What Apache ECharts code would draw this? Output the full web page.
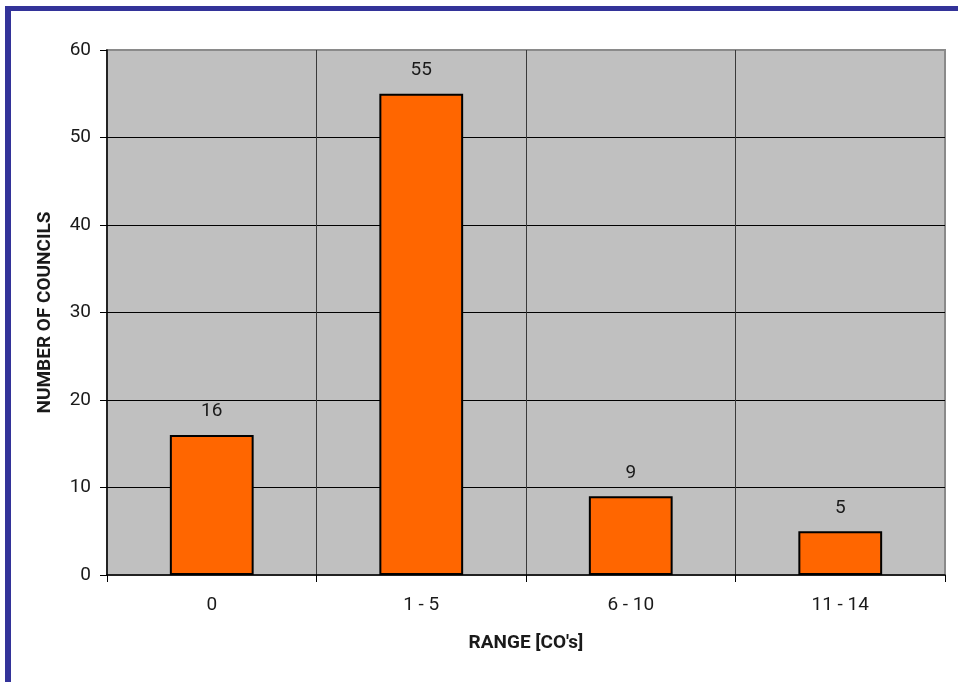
<!DOCTYPE html>
<html>
<head>
<meta charset="utf-8">
<title>Number of councils by range</title>
<script src="https://cdn.jsdelivr.net/npm/echarts@6/dist/echarts.min.js"></script>
<style>
  html, body { margin: 0; padding: 0; background: #ffffff; overflow: hidden; }
  #frame {
    position: absolute; left: 5px; top: 6px; width: 1000px; height: 800px;
    border-left: 6px solid #333399; border-top: 5px solid #333399;
    box-sizing: border-box;
  }
  #chart { position: absolute; left: 0; top: 0; width: 958px; height: 682px; }
</style>
</head>
<body>
<div id="frame"></div>
<div id="chart"></div>
<script>
// Councils grouped by how many COs they have
const categories = ['0', '1 - 5', '6 - 10', '11 - 14'];
const councils = [16, 55, 9, 5];
const yTicks = { min: 0, max: 60, interval: 10 };

const FONT = 'Roboto, "Liberation Sans", sans-serif';
const TEXT = '#1a1a1a';

const chart = echarts.init(document.getElementById('chart'), null, { renderer: 'canvas' });
chart.setOption({
  animation: false,
  backgroundColor: 'transparent',
  textStyle: { fontFamily: FONT },
  grid: {
    left: 107, top: 50, right: 13, bottom: 107,
    show: true, backgroundColor: '#c0c0c0',
    borderColor: '#8a8a8a', borderWidth: 2
  },
  xAxis: {
    type: 'category',
    data: categories,
    name: "RANGE [CO's]",
    nameLocation: 'middle',
    nameGap: 59,
    nameTextStyle: { fontFamily: FONT, fontSize: 19, fontWeight: 'bold', color: TEXT },
    axisLine: { show: true, lineStyle: { color: '#000', width: 1.5 } },
    axisTick: { show: true, length: 7, lineStyle: { color: '#000' } },
    axisLabel: { fontFamily: FONT, fontSize: 19, color: TEXT, margin: 21 },
    splitLine: { show: true, showMinLine: false, showMaxLine: false, lineStyle: { color: '#3a3a3a', width: 1 } }
  },
  yAxis: {
    type: 'value',
    min: yTicks.min, max: yTicks.max, interval: yTicks.interval,
    name: 'NUMBER OF COUNCILS',
    nameLocation: 'middle',
    nameGap: 52,
    nameTextStyle: { fontFamily: FONT, fontSize: 19, fontWeight: 'bold', color: TEXT },
    axisLine: { show: true, lineStyle: { color: '#000', width: 1.5 } },
    axisTick: { show: true, length: 7, lineStyle: { color: '#000' } },
    axisLabel: { fontFamily: FONT, fontSize: 19, color: TEXT, margin: 16 },
    splitLine: { show: true, showMinLine: false, showMaxLine: false, lineStyle: { color: '#000', width: 1 } }
  },
  series: [{
    type: 'bar',
    data: councils,
    barWidth: '40%',
    itemStyle: { color: '#ff6600', borderColor: '#000', borderWidth: 2 },
    label: {
      show: true, position: 'top', distance: 14,
      fontFamily: FONT, fontSize: 19, color: TEXT
    }
  }]
});
</script>
</body>
</html>
